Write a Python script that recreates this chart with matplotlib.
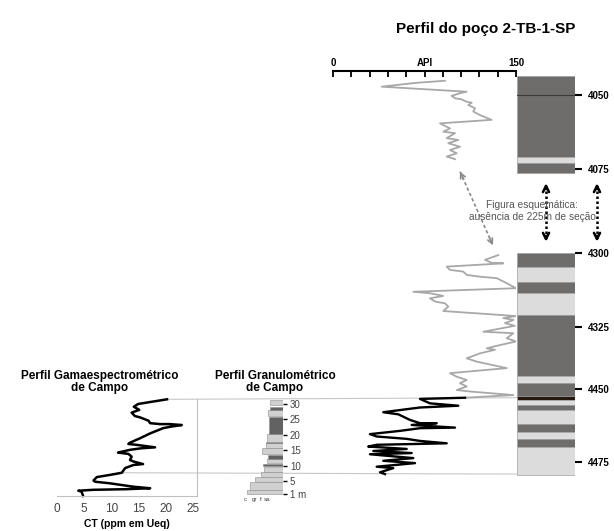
import matplotlib
matplotlib.use("Agg")
import matplotlib.pyplot as plt
import numpy as np
from matplotlib.patches import ConnectionPatch

plt.rcParams['font.family'] = ['Liberation Sans', 'DejaVu Sans']

# --- well log (schematic depth axis, labels give the real depths) ---
depth_tick_pos = [4050, 4075, 4103.4, 4128.4, 4149.3, 4174.0]
depth_tick_labels = ['4050', '4075', '4300', '4325', '4450', '4475']
api_ticks = [0, 15, 30, 45, 60, 75, 90, 105, 120, 135, 150]
api_tick_labels = ['0', '', '', '', '', 'API', '', '', '', '', '150']

api_up = [91.8, 71.3, 65.8, 39.9, 109.6, 104.1, 97.3, 100.0, 105.5, 109.6,
          113.7, 110.9, 116.4, 115.0, 120.5, 130.0, 87.7, 95.9, 90.4, 100.0,
          93.2, 102.7, 94.5, 104.1, 95.9, 101.4, 93.2, 100.0]
s_up = [4045.2, 4045.8, 4046.0, 4047.2, 4048.9, 4049.4, 4050.3, 4051.1, 4051.5, 4052.3,
        4052.6, 4053.4, 4054.5, 4055.6, 4056.8, 4058.4, 4059.6, 4061.3, 4062.4, 4062.9,
        4064.6, 4065.2, 4066.3, 4067.5, 4068.6, 4069.7, 4070.8, 4071.7]

api_lo = [135.5, 124.6, 130.1, 139.6, 93.2, 95.9, 106.8, 109.6, 120.5, 134.2,
          142.4, 150, 65.8, 79.5, 90.4, 79.5, 83.6, 91.8, 94.5, 90.4,
          150, 139.6, 148, 141, 149, 123.2, 147.8, 142.4, 150, 136.9,
          126, 132.8, 120.5, 109.6, 117.8, 142.4, 95.9, 101.4, 109.6, 104.1,
          109.6, 101.4, 112.3, 147.8]
s_lo = [4104.1, 4105.7, 4106.7, 4106.9, 4108.0, 4109.1, 4109.7, 4110.8, 4111.4, 4111.9,
        4113.6, 4115.3, 4116.5, 4117.0, 4117.9, 4118.7, 4119.8, 4120.4, 4121.5, 4123.0,
        4124.7, 4125.4, 4126.0, 4127.1, 4128.0, 4130.0, 4130.5, 4132.2, 4133.3, 4134.5,
        4135.6, 4136.1, 4137.3, 4139.0, 4140.1, 4142.3, 4144.0, 4145.2, 4146.3, 4147.4,
        4148.5, 4149.7, 4150.2, 4151.4]

# correlated interval (black)
api_blk = [108.2, 71.3, 79.5, 102.7, 71.3, 41.2, 53.5, 63.1, 71.3, 85.0,
           64.5, 100.0, 71.3, 54.9, 30.3, 35.8, 60.4, 71.3, 93.2, 35.8,
           28.9, 60.4, 33.0, 64.5, 30.3, 65.8, 41.2, 67.2, 35.8, 49.4,
           38.5, 42.6]
s_blk = [4152.3, 4152.7, 4154.2, 4155.0, 4155.6, 4157.2, 4157.9, 4159.8, 4160.9, 4160.9,
         4161.5, 4162.4, 4162.6, 4163.5, 4164.6, 4165.4, 4166.2, 4166.9, 4167.7, 4168.2,
         4168.8, 4169.6, 4170.3, 4171.0, 4171.4, 4172.7, 4173.6, 4174.4, 4175.6, 4176.1,
         4177.5, 4178.1]

# lithology column: top, bottom, class
lit_top = [4043.6, 4070.9, 4073.0, 4103.5, 4108.1, 4113.2, 4116.8, 4124.3, 4144.9, 4147.4,
           4151.7, 4153.0, 4154.7, 4156.4, 4161.1, 4163.8, 4166.3, 4168.8]
lit_bot = [4070.9, 4073.0, 4076.5, 4108.1, 4113.2, 4116.8, 4124.3, 4144.9, 4147.4, 4151.7,
           4153.0, 4154.7, 4156.4, 4161.1, 4163.8, 4166.3, 4168.8, 4178.4]
lit_cls = ['d', 'l', 'd', 'd', 'l', 'd', 'l', 'd', 'l', 'd',
           'b', 'l', 'd', 'l', 'd', 'l', 'd', 'l']
lit_colors = {'d': '#6f6d6b', 'l': '#dcdcdc', 'b': '#241810'}

# --- field gamma spectrometry ---
ct_vals = [20.2, 14.9, 14.1, 15.1, 13.7, 14.3, 15.2, 16.8, 17.1, 18.9,
           20.7, 22.9, 21.0, 19.5, 17.1, 15.2, 13.4, 13.1, 14.6, 18.0,
           15.5, 13.4, 11.9, 11.2, 13.1, 13.7, 13.4, 14.1, 15.8, 14.0,
           12.5, 11.9, 9.7, 7.3, 6.7, 7.0, 9.7, 14.0, 17.1, 12.8,
           6.7, 3.9, 4.5, 4.8]
ct_m = [31.5, 30.0, 29.1, 28.1, 27.2, 26.1, 25.7, 24.6, 23.8, 23.5,
        23.5, 23.2, 22.7, 22.2, 20.5, 18.9, 17.5, 17.1, 16.8, 16.0,
        15.7, 15.2, 14.6, 14.3, 13.9, 13.0, 11.9, 11.4, 10.6, 10.3,
        9.3, 7.8, 7.1, 6.4, 5.3, 4.9, 4.4, 3.3, 2.8, 2.5,
        2.3, 2.0, 1.7, 0.3]
ct_ticks = [0, 5, 10, 15, 20, 25]

# --- field granulometry: bottom, top (m), left edge (grain scale), class ---
gr_bot = [1.0, 2.3, 4.9, 6.5, 8.0, 10.0, 10.9, 12.3, 13.8, 15.7, 17.3, 17.8, 20.2, 26.2, 28.1, 29.7]
gr_top = [2.3, 4.9, 6.5, 8.0, 9.8, 10.6, 12.3, 13.5, 15.7, 17.3, 17.8, 20.2, 25.9, 28.1, 29.1, 31.3]
gr_left = [0.1, 0.18, 0.3, 0.45, 0.52, 0.5, 0.6, 0.62, 0.48, 0.58, 0.58, 0.6, 0.65, 0.62, 0.68, 0.68]
gr_cls = ['l', 'l', 'l', 'l', 'l', 'd', 'l', 'd', 'l', 'l', 'd', 'l', 'd', 'l', 'd', 'l']
gr_colors = {'d': '#626262', 'l': '#d0d0d0'}
gr_ticks = [1, 5, 10, 15, 20, 25, 30]
gr_tick_labels = ['1 m', '5', '10', '15', '20', '25', '30']
gr_size_pos = [0.05, 0.3, 0.45, 0.6]
gr_size_labels = ['c', 'gr', 'f', 'sa']

W, H = 614, 531


def box(x0, y0, x1, y1):
    return [x0 / W, 1 - y1 / H, (x1 - x0) / W, (y1 - y0) / H]


fig = plt.figure(figsize=(6.14, 5.31), dpi=100)

s_lim = (4180.1, 4041.8)
m_lim = (0.3, 31.6)

# API log
ax_api = fig.add_axes(box(333, 70.7, 516, 480))
ax_api.patch.set_visible(False)
ax_api.plot(api_up, s_up, color='#a8a8a8', lw=1.3)
ax_api.plot(api_lo + [api_blk[0]], s_lo + [s_blk[0]], color='#a8a8a8', lw=1.3)
ax_api.plot(api_blk, s_blk, color='black', lw=1.7)
ax_api.set_xlim(0, 150)
ax_api.set_ylim(*s_lim)
for sp in ['left', 'right', 'bottom']:
    ax_api.spines[sp].set_visible(False)
ax_api.spines['top'].set_linewidth(1.5)
ax_api.xaxis.tick_top()
ax_api.set_xticks(api_ticks, api_tick_labels)
ax_api.tick_params(axis='x', direction='in', length=4, width=1.3, pad=2,
                   labelsize=7)
for t in ax_api.get_xticklabels():
    t.set_fontweight('bold')
ax_api.set_yticks([])
# gap arrow between the two curve parts
ax_api.plot([api_up[-1] + 4.1, 131.1], [4075.9, 4100.8], color='#8a8a8a', lw=1.2,
            ls=(0, (2, 1.5)))
for tip, tail in [((104.1, 4075.9), (107, 4078.5)), ((131.1, 4100.8), (128.2, 4098.2))]:
    ax_api.annotate('', xy=tip, xytext=tail,
                    arrowprops=dict(arrowstyle='->', color='#8a8a8a', lw=1.2,
                                    mutation_scale=9, shrinkA=0, shrinkB=0))

# lithology column
ax_lit = fig.add_axes(box(517, 70.7, 575, 480))
ax_lit.patch.set_visible(False)
for top, bot, c in zip(lit_top, lit_bot, lit_cls):
    ax_lit.bar(0.5, bot - top, bottom=top, width=1, color=lit_colors[c],
               edgecolor='#a0a0a0', lw=0.5)
ax_lit.axhline(depth_tick_pos[0], color='#3a3a3a', lw=0.8)
ax_lit.set_xlim(0, 1)
ax_lit.set_ylim(*s_lim)
for sp in ax_lit.spines.values():
    sp.set_visible(False)
ax_lit.set_xticks([])
ax_lit.yaxis.tick_right()
ax_lit.set_yticks(depth_tick_pos, depth_tick_labels)
ax_lit.tick_params(axis='y', length=5, width=1.5, pad=4, labelsize=7)
for t in ax_lit.get_yticklabels():
    t.set_fontweight('bold')

gap_top, gap_bot = 4079.8, 4099.6
for xa in [0.5, 1.379]:
    ax_lit.plot([xa, xa], [gap_top + 1, gap_bot - 1], color='black', lw=1.8,
                ls=(0, (1, 1)), clip_on=False)
    ax_lit.annotate('', xy=(xa, gap_top), xytext=(xa, gap_top + 2),
                    arrowprops=dict(arrowstyle='->', color='black', lw=1.8,
                                    mutation_scale=11, shrinkA=0, shrinkB=0),
                    annotation_clip=False)
    ax_lit.annotate('', xy=(xa, gap_bot), xytext=(xa, gap_bot - 2),
                    arrowprops=dict(arrowstyle='->', color='black', lw=1.8,
                                    mutation_scale=11, shrinkA=0, shrinkB=0),
                    annotation_clip=False)
ax_lit.text(0.26, 4089.2, 'Figura esquemática:\nausência de 225m de seção',
            ha='center', va='center', fontsize=7.3, color='#555555', linespacing=1.15,
            clip_on=False)

# gamma spectrometry
ax_ct = fig.add_axes(box(57, 399, 197, 496))
ax_ct.patch.set_visible(False)
ax_ct.plot(ct_vals, ct_m, color='black', lw=1.8, clip_on=False)
ax_ct.set_xlim(0, 25.7)
ax_ct.set_ylim(*m_lim)
ax_ct.spines['left'].set_visible(False)
ax_ct.spines['top'].set_visible(False)
ax_ct.spines['bottom'].set_color('#c0c0c0')
ax_ct.spines['right'].set_color('#c0c0c0')
ax_ct.spines['bottom'].set_linewidth(0.8)
ax_ct.spines['right'].set_linewidth(0.8)
ax_ct.set_yticks([])
ax_ct.set_xticks(ct_ticks)
ax_ct.tick_params(axis='x', length=0, pad=5, labelsize=8.5, labelcolor='#444444')
ax_ct.set_xlabel('CT (ppm em Ueq)', fontsize=7.5, fontweight='bold', labelpad=3)

# granulometry
ax_gr = fig.add_axes(box(243, 399, 283, 496))
ax_gr.patch.set_visible(False)
for b, t, lft, c in zip(gr_bot, gr_top, gr_left, gr_cls):
    ax_gr.bar(lft, t - b, bottom=b, width=1 - lft, align='edge', color=gr_colors[c],
              edgecolor='#8c8c8c', lw=0.4)
ax_gr.set_xlim(0, 1)
ax_gr.set_ylim(*m_lim)
for sp in ax_gr.spines.values():
    sp.set_visible(False)
ax_gr.yaxis.tick_right()
ax_gr.set_yticks(gr_ticks, gr_tick_labels)
ax_gr.tick_params(axis='y', length=3, width=1, pad=2, labelsize=7, labelcolor='#444444')
ax_gr.set_xticks(gr_size_pos, gr_size_labels)
ax_gr.tick_params(axis='x', length=0, pad=1, labelsize=4.5, labelcolor='#444444')

# correlation lines outcrop -> well
for (cx, cm), sw in [((ct_vals[0], ct_m[0]), s_blk[0]), ((ct_vals[31], ct_m[31]), s_blk[-1])]:
    con = ConnectionPatch(xyA=(cx, cm), coordsA=ax_ct.transData,
                          xyB=(0, sw), coordsB=ax_lit.transData,
                          color='#c8c8c8', lw=0.8, zorder=-1)
    fig.add_artist(con)

fig.text(486 / W, 1 - 29 / H, 'Perfil do poço 2-TB-1-SP', ha='center', va='center',
         fontsize=11, fontweight='bold')
fig.text(100 / W, 1 - 382 / H, 'Perfil Gamaespectrométrico\nde Campo', ha='center',
         va='center', fontsize=8.5, fontweight='bold', linespacing=1.1)
fig.text(275 / W, 1 - 382 / H, 'Perfil Granulométrico\nde Campo', ha='center',
         va='center', fontsize=8.5, fontweight='bold', linespacing=1.1)

fig.savefig('out.png', dpi=100)
